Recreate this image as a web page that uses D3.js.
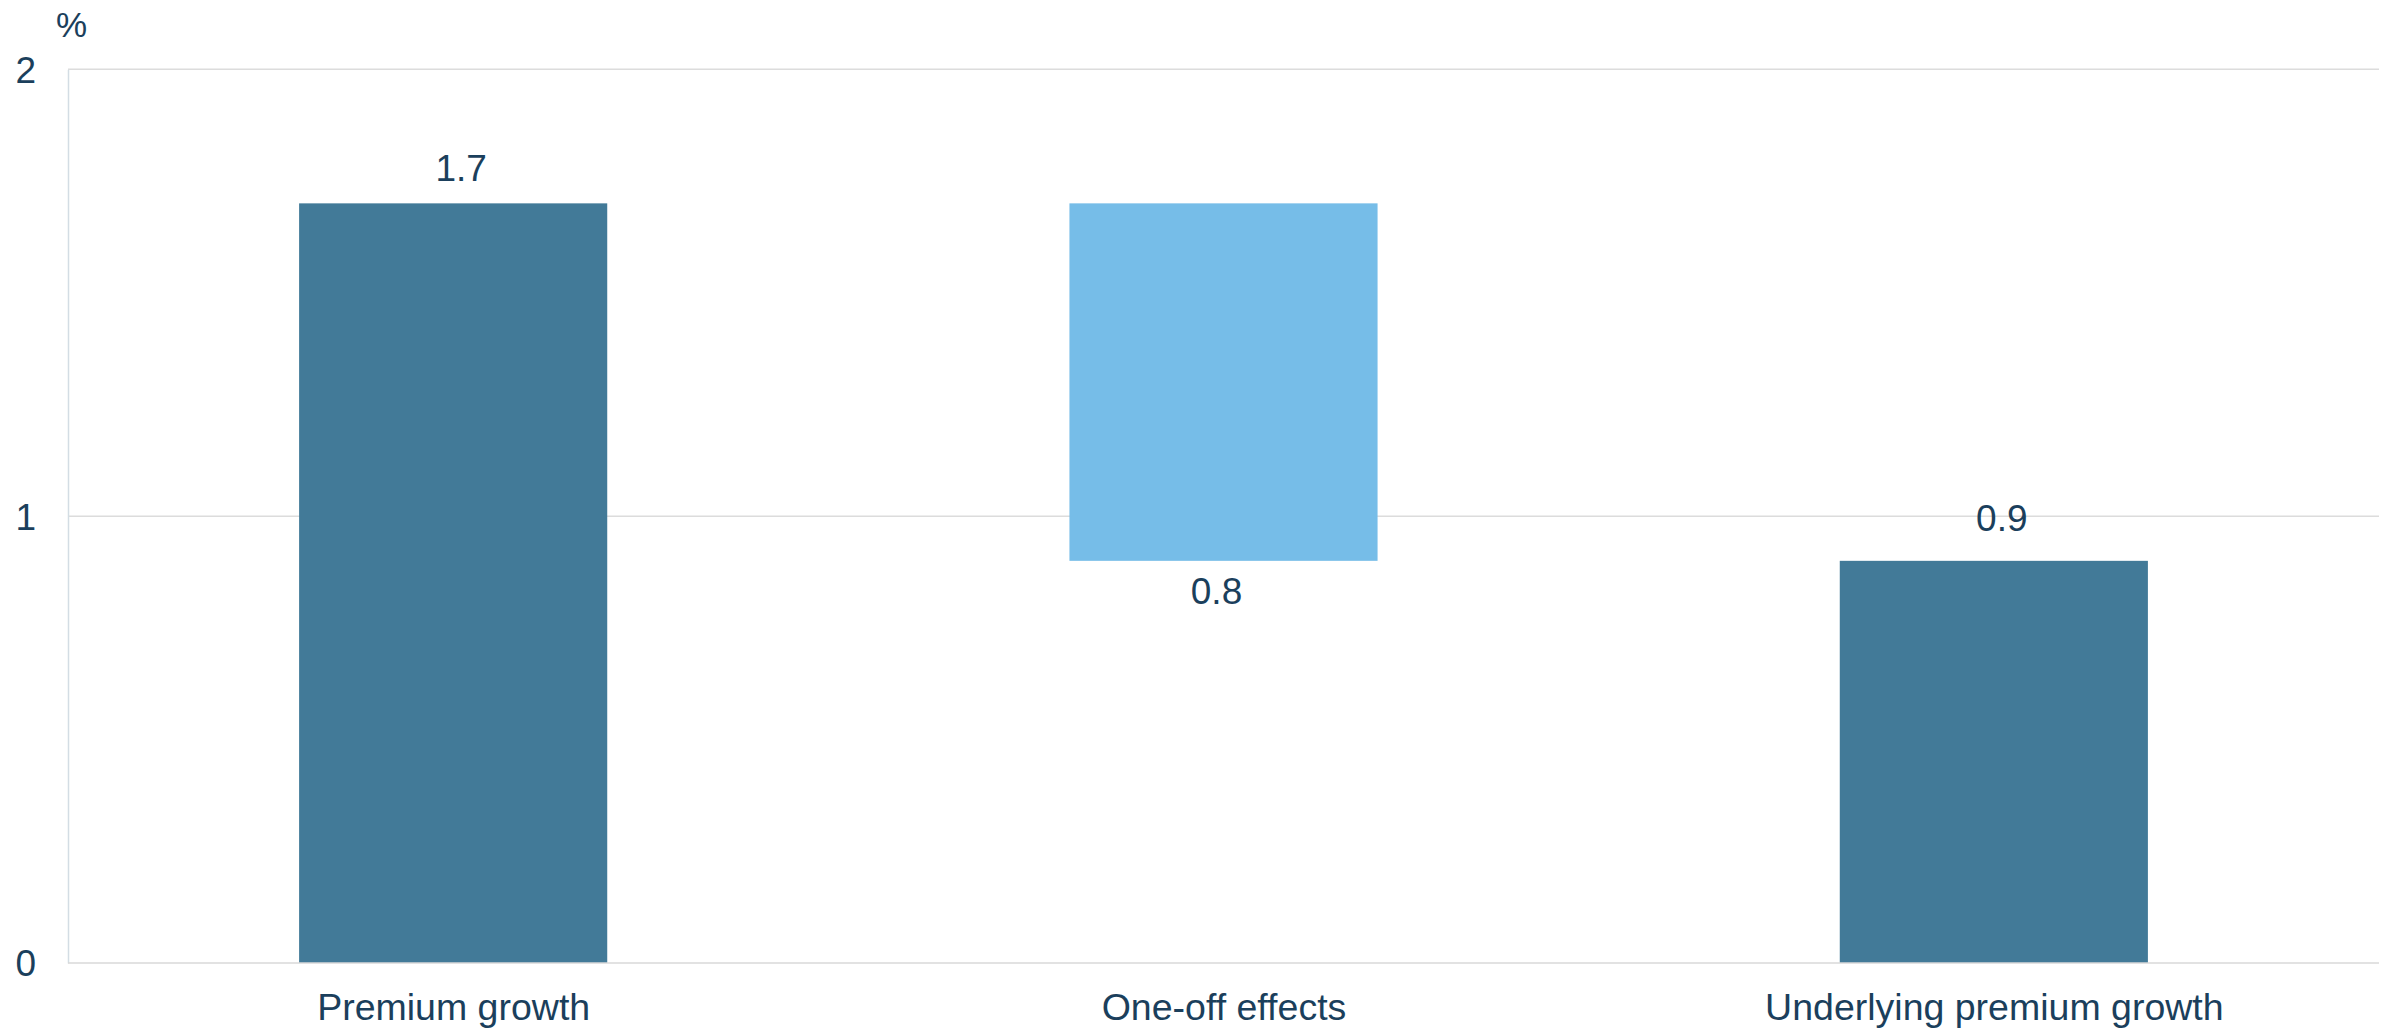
<!DOCTYPE html>
<html>
<head>
<meta charset="utf-8">
<script src="https://cdn.jsdelivr.net/npm/d3@7"></script>
<style>
  html, body { margin: 0; padding: 0; background: #ffffff; overflow: hidden; }
  svg { display: block; }
  svg text { font-family: "Liberation Sans", Arial, sans-serif; fill: #1B3F5C; }
</style>
</head>
<body>
<svg id="chart" width="2392" height="1030"></svg>
<script>
const categories = ["Premium growth", "One-off effects", "Underlying premium growth"];
const values = [1.7, -0.8, 0.9];
const barKinds = ["total", "change", "total"];
const yTicks = [0, 1, 2];
const unitLabel = "%";

(function () {
const mLeft = 68, mRight = 2379, mTop = 69.3, mBottom = 963;
const svg = d3.select("#chart");

const x = d3.scalePoint().domain(categories).range([mLeft, mRight]).padding(0.5);
const step = x.step();
const barW = step * 0.4;
const y = d3.scaleLinear().domain([0, 2]).range([mBottom, mTop]);

let running = 0;
const bars = categories.map((c, i) => {
  let y0, y1;
  if (barKinds[i] === "total") { y0 = 0; y1 = values[i]; running = values[i]; }
  else { y0 = running; y1 = running + values[i]; running = y1; }
  return { cat: c, v: values[i], kind: barKinds[i], lo: Math.min(y0, y1), hi: Math.max(y0, y1) };
});

// gridlines
svg.append("g")
  .selectAll("line")
  .data(yTicks.filter(t => t !== 0))
  .join("line")
  .attr("x1", mLeft).attr("x2", mRight)
  .attr("y1", d => y(d)).attr("y2", d => y(d))
  .attr("stroke", "#DCDCDC").attr("stroke-width", 1.5);

// y axis
const yAxis = svg.append("g")
  .attr("transform", `translate(${mLeft},0)`)
  .call(d3.axisLeft(y).tickValues(yTicks).tickSize(0).tickPadding(32).tickFormat(d3.format("d")));
yAxis.select(".domain").attr("stroke", "#D3DDE4").attr("stroke-width", 1.5);
yAxis.selectAll("text").attr("font-size", "37px").attr("fill", "#1B3F5C")
  .attr("font-family", "Liberation Sans, Arial, sans-serif").attr("dy", "0.35em");

// bars
svg.append("g")
  .selectAll("rect")
  .data(bars)
  .join("rect")
  .attr("x", d => x(d.cat) - barW / 2)
  .attr("width", barW)
  .attr("y", d => y(d.hi))
  .attr("height", d => y(d.lo) - y(d.hi))
  .attr("fill", d => d.kind === "total" ? "#427A98" : "#76BDE8");

// x axis
const xAxis = svg.append("g")
  .attr("transform", `translate(0,${mBottom})`)
  .call(d3.axisBottom(x).tickSize(0).tickPadding(0));
xAxis.select(".domain").attr("d", `M${mLeft},0H${mRight}`).attr("stroke", "#D9D9D9").attr("stroke-width", 1.5);
xAxis.selectAll("text").attr("font-size", "37.5px").attr("fill", "#1B3F5C")
  .attr("font-family", "Liberation Sans, Arial, sans-serif").attr("dy", "57px");

// value labels
svg.append("g")
  .selectAll("text")
  .data(bars)
  .join("text")
  .attr("x", d => x(d.cat) + (d.v < 0 ? -7 : 8))
  .attr("y", d => d.v < 0 ? y(d.lo) + 43 : y(d.hi) - (d.hi > 1.5 ? 22 : 30))
  .attr("text-anchor", "middle")
  .attr("font-size", "37px")
  .text(d => d3.format(".1f")(Math.abs(d.v)));

// unit label
svg.append("text")
  .attr("x", 56).attr("y", 37)
  .attr("font-size", "35px")
  .text(unitLabel);
})();
</script>
</body>
</html>
